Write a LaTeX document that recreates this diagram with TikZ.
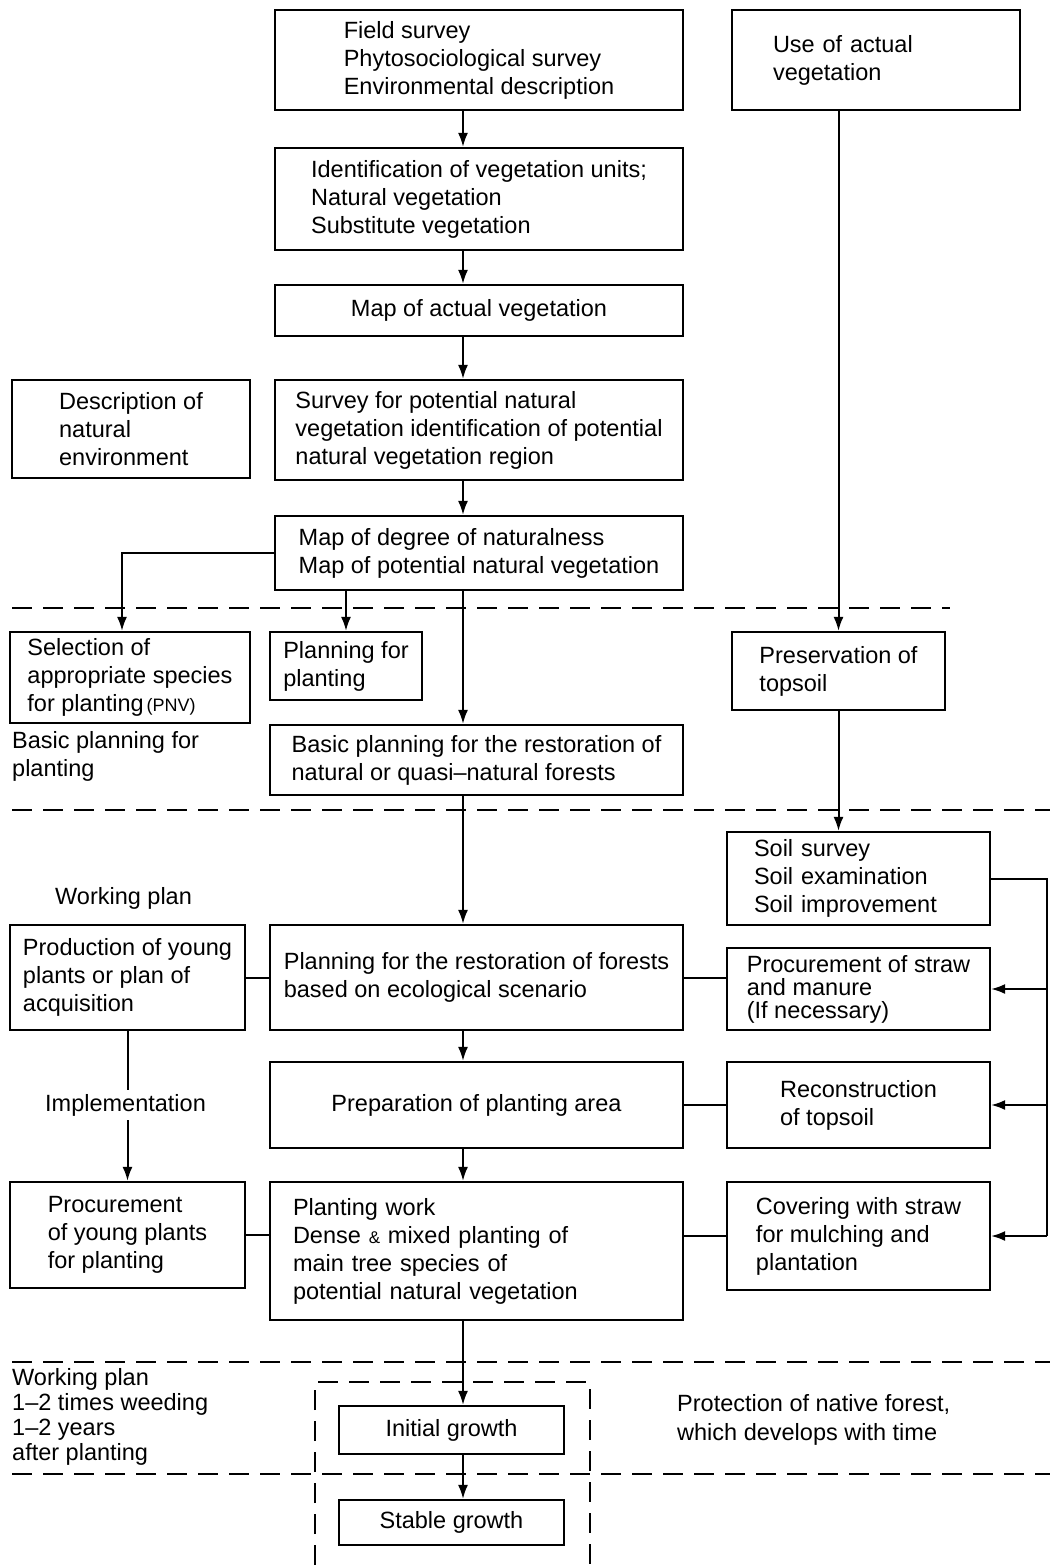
\documentclass[tikz,border=0pt]{standalone}
\usepackage{fontspec}
\setmainfont{Liberation Sans}
\usetikzlibrary{arrows.meta}
\begin{document}
\begin{tikzpicture}[x=1pt,y=-1pt,font=\fontsize{23.5}{28}\selectfont,
    box/.style={draw,line width=2.2pt,align=left,inner sep=0pt},
    lbl/.style={align=left,inner sep=0pt,anchor=west},
    conn/.style={line width=2pt},
    sep/.style={line width=1.6pt,dash pattern=on 20pt off 11pt},
    >={Latex[length=14pt,width=10pt]}]
                    \useasboundingbox (0,0) rectangle (1050,1565);
                    \node[box,minimum width=408,minimum height=100](fs) at (479,60) {Field survey\\Phytosociological survey\\Environmental description};
                    \node[box,minimum width=288,minimum height=100,text width=206,inner xsep=41](ua) at (876,60) {Use of actual\\vegetation};
                    \node[box,minimum width=408,minimum height=102](id) at (479,199) {Identification of vegetation units;\\Natural vegetation\\Substitute vegetation};
                    \node[box,minimum width=408,minimum height=51](ma) at (479,310.5) {Map of actual vegetation};
                    \node[box,minimum width=238,minimum height=98](de) at (131,429) {Description of\\natural\\environment};
                    \node[box,minimum width=408,minimum height=100](sp) at (479,430) {Survey for potential natural\\vegetation identification of potential\\natural vegetation region};
                    \node[box,minimum width=408,minimum height=74](md) at (479,553) {Map of degree of naturalness\\Map of potential natural vegetation};
                    \node[box,minimum width=240,minimum height=91](sel) at (130,677.5) {Selection of\\appropriate species\\for planting{\fontsize{18}{20}\selectfont\,(PNV)}};
                    \node[box,minimum width=152,minimum height=68](pp) at (346,666) {Planning for\\planting};
                    \node[box,minimum width=213,minimum height=78](pt) at (838.5,671) {Preservation of\\topsoil};
                    \node[box,minimum width=413,minimum height=70](bp) at (476.5,760) {Basic planning for the restoration of\\natural or quasi--natural forests};
                    \node[box,minimum width=263,minimum height=93,text width=209,inner xsep=27](ss) at (858.5,878.5) {Soil survey\\Soil examination\\Soil improvement};
                    \node[box,minimum width=235,minimum height=105](py) at (127.5,977.5) {Production of young\\plants or plan of\\acquisition};
                    \node[box,minimum width=413,minimum height=105](pr) at (476.5,977.5) {Planning for the restoration of forests\\based on ecological scenario};
                    \node[box,minimum width=263,minimum height=82](ps) at (858.5,989) {Procurement of straw\\[-5pt]and manure\\[-5pt](If necessary)};
                    \node[box,minimum width=413,minimum height=86](pa) at (476.5,1105) {Preparation of planting area};
                    \node[box,minimum width=263,minimum height=86](rt) at (858.5,1105) {Reconstruction\\of topsoil};
                    \node[box,minimum width=235,minimum height=106](yp) at (127.5,1235) {Procurement\\of young plants\\for planting};
                    \node[box,minimum width=413,minimum height=138,text width=367,inner xsep=23](pw) at (476.5,1251) {Planting work\\Dense {\fontsize{17}{20}\selectfont\&} mixed planting of\\main tree species of\\potential natural vegetation};
                    \node[box,minimum width=263,minimum height=108](cs) at (858.5,1236) {Covering with straw\\for mulching and\\plantation};
                    \node[box,minimum width=225,minimum height=48](ig) at (451.5,1430) {Initial growth};
                    \node[box,minimum width=225,minimum height=45](sg) at (451.5,1522.5) {Stable growth};
                    \node[lbl](lbp) at (12,756) {Basic planning for\\planting};
                    \node[lbl](lwp) at (55,898) {Working plan};
                    \node[lbl,font=\fontsize{23.5}{25}\selectfont](lwd) at (12,1417) {Working plan\\1--2 times weeding\\1--2 years\\after planting};
                    \node[lbl,font=\fontsize{23.5}{29}\selectfont](lpn) at (677,1420) {Protection of native forest,\\which develops with time};
                    \coordinate (spine) at (463,0);
                    \coordinate (rail) at (1047,0);
                    \coordinate (selin) at ([xshift=-8pt]sel.north);
                    \draw[sep] (12,608) -- (950,608);
                    \draw[sep] (12,810) -- (1050,810);
                    \draw[sep] (12,1362) -- (1050,1362);
                    \draw[sep] (12,1474) -- (1050,1474);
                    \draw[sep] (315,1565) -- (315,1382) -- (590,1382) -- (590,1565);
                    \draw[conn,->] (fs.south -| spine) -- (id.north -| spine);
                    \draw[conn,->] (id.south -| spine) -- (ma.north -| spine);
                    \draw[conn,->] (ma.south -| spine) -- (sp.north -| spine);
                    \draw[conn,->] (sp.south -| spine) -- (md.north -| spine);
                    \draw[conn,->] (md.west) -| (selin);
                    \draw[conn,->] (md.south -| pp.north) -- (pp.north);
                    \draw[conn,->] (md.south -| spine) -- (bp.north -| spine);
                    \draw[conn,->] (ua.south -| pt.north) -- (pt.north);
                    \draw[conn,->] (pt.south) -- (pt.south |- ss.north);
                    \draw[conn,->] (bp.south -| spine) -- (pr.north -| spine);
                    \draw[conn] (ss.east) -- (ss.east -| rail) -- (cs.east -| rail);
                    \draw[conn,->] (ps.east -| rail) -- (ps.east);
                    \draw[conn,->] (rt.east -| rail) -- (rt.east);
                    \draw[conn,->] (cs.east -| rail) -- (cs.east);
                    \draw[conn] (py.east) -- (pr.west);
                    \draw[conn] (pr.east) -- (pr.east -| ps.west);
                    \draw[conn,->] (py.south) -- (yp.north);
                    \draw[conn,->] (pr.south -| spine) -- (pa.north -| spine);
                    \draw[conn] (pa.east) -- (rt.west);
                    \draw[conn,->] (pa.south -| spine) -- (pw.north -| spine);
                    \draw[conn] (yp.east) -- (yp.east -| pw.west);
                    \draw[conn] (cs.west -| pw.east) -- (cs.west);
                    \draw[conn,->] (pw.south -| spine) -- (ig.north -| spine);
                    \draw[conn,->] (ig.south -| spine) -- (sg.north -| spine);
                    \node[lbl,fill=white,inner ysep=4pt](lim) at (45,1105) {Implementation};
                \end{tikzpicture}
\end{document}
